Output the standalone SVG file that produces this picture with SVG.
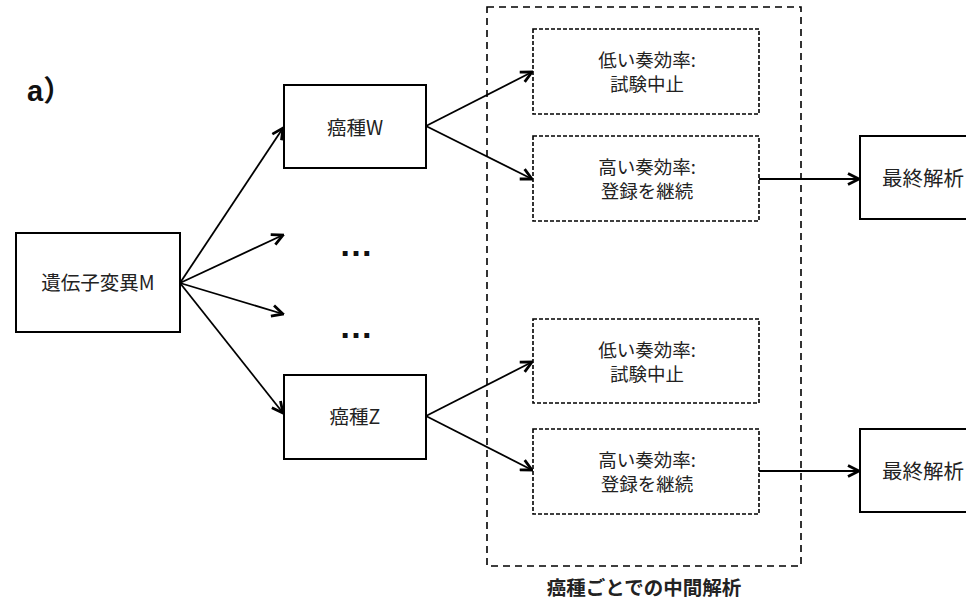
<svg xmlns="http://www.w3.org/2000/svg" width="966" height="603" viewBox="0 0 966 603">
<style>
  .box{fill:#fff;stroke:#000;stroke-width:2}
  .dbox{fill:#fff;stroke:#000;stroke-width:1.6;stroke-dasharray:4 2}
  .outer{fill:none;stroke:#000;stroke-width:1.6;stroke-dasharray:7 5}
  .t{font-family:"Noto Sans CJK JP","Liberation Sans",sans-serif;font-size:19.5px;fill:#222;text-anchor:middle}
  .t2{font-family:"Noto Sans CJK JP","Liberation Sans",sans-serif;font-size:18.5px;fill:#222;text-anchor:middle}
  .edge{stroke:#000;stroke-width:1.8;fill:none;marker-end:url(#ah)}
</style>
<defs>
  <marker id="ah" viewBox="0 0 14 14" refX="12.5" refY="7" markerWidth="14" markerHeight="14" markerUnits="userSpaceOnUse" orient="auto">
    <path d="M1.5,1.5 L12.5,7 L1.5,12.5" fill="none" stroke="#000" stroke-width="2.8"/>
  </marker>
</defs>
<rect width="966" height="603" fill="#fff"/>
<text x="27" y="101" style="font-family:'Liberation Sans','Noto Sans CJK JP',sans-serif;font-size:29px;font-weight:bold;fill:#111">a）</text>

<g id="outer-group">
  <rect class="outer" x="487" y="7" width="314" height="559"/>
  <text class="t" x="644" y="595" style="font-weight:bold">癌種ごとでの中間解析</text>
</g>

<g id="connectors">
  <line class="edge" x1="180" y1="283" x2="283" y2="128"/>
  <line class="edge" x1="180" y1="283" x2="283" y2="235"/>
  <line class="edge" x1="180" y1="283" x2="283" y2="314"/>
  <line class="edge" x1="180" y1="283" x2="283" y2="413"/>
  <line class="edge" x1="426" y1="126" x2="532" y2="72"/>
  <line class="edge" x1="426" y1="126" x2="532" y2="179"/>
  <line class="edge" x1="426" y1="416" x2="532" y2="362"/>
  <line class="edge" x1="426" y1="416" x2="532" y2="470"/>
  <line class="edge" x1="759" y1="179" x2="859" y2="179"/>
  <line class="edge" x1="759" y1="471" x2="859" y2="471"/>
</g>

<g id="node-M">
  <rect class="box" x="16" y="233" width="164" height="99"/>
  <text class="t" x="98" y="290">遺伝子変異M</text>
</g>
<g id="node-W">
  <rect class="box" x="284" y="85" width="142" height="83"/>
  <text class="t" x="355" y="135">癌種W</text>
</g>
<g id="dots1">
  <text x="356" y="256" style="font-family:'Liberation Sans',sans-serif;font-size:34px;font-weight:bold;text-anchor:middle;fill:#111">…</text>
</g>
<g id="dots2">
  <text x="356" y="338" style="font-family:'Liberation Sans',sans-serif;font-size:34px;font-weight:bold;text-anchor:middle;fill:#111">…</text>
</g>
<g id="node-Z">
  <rect class="box" x="284" y="375" width="142" height="84"/>
  <text class="t" x="355" y="424">癌種Z</text>
</g>

<g id="node-W-low">
  <rect class="dbox" x="533" y="29" width="226" height="85"/>
  <text class="t2" x="647" y="67">低い奏効率:</text>
  <text class="t2" x="647" y="91">試験中止</text>
</g>
<g id="node-W-high">
  <rect class="dbox" x="533" y="136" width="226" height="85"/>
  <text class="t2" x="647" y="174">高い奏効率:</text>
  <text class="t2" x="647" y="198">登録を継続</text>
</g>
<g id="node-Z-low">
  <rect class="dbox" x="533" y="319" width="226" height="84"/>
  <text class="t2" x="647" y="357">低い奏効率:</text>
  <text class="t2" x="647" y="381">試験中止</text>
</g>
<g id="node-Z-high">
  <rect class="dbox" x="533" y="429" width="226" height="85"/>
  <text class="t2" x="647" y="467">高い奏効率:</text>
  <text class="t2" x="647" y="491">登録を継続</text>
</g>

<g id="final-1">
  <rect class="box" x="860" y="136" width="130" height="83"/>
  <text class="t" x="882" y="186" style="text-anchor:start;font-size:20.5px">最終解析</text>
</g>
<g id="final-2">
  <rect class="box" x="860" y="429" width="130" height="83"/>
  <text class="t" x="882" y="479" style="text-anchor:start;font-size:20.5px">最終解析</text>
</g>
</svg>
